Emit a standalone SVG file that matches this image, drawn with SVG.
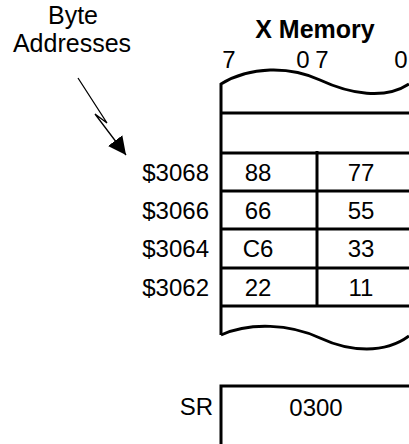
<svg xmlns="http://www.w3.org/2000/svg" width="409" height="444" viewBox="0 0 409 444">
<style>
text{font-family:"Liberation Sans",Arial,sans-serif;font-size:24px;fill:#000}
.b{font-weight:bold;font-size:25px}
.big{font-size:25px}
.m{text-anchor:middle}
.r{text-anchor:end}
.ln{stroke:#000;stroke-width:3;fill:none}
.th{stroke:#000;stroke-width:1.3;fill:none}
</style>
<defs>
<marker id="ah" viewBox="0 0 10 10" refX="10" refY="5" markerWidth="18" markerHeight="18" markerUnits="userSpaceOnUse" orient="auto">
<path d="M0,0 L10,5 L0,10 z" fill="#000"/>
</marker>
</defs>
<rect width="409" height="444" fill="#fff"/>
<g id="title">
<text class="b m" x="315" y="38">X Memory</text>
<text class="m" x="229" y="68">7</text>
<text class="m" x="303" y="68">0</text>
<text class="m" x="322" y="68">7</text>
<text class="m" x="401" y="68">0</text>
</g>
<g id="label">
<text class="m big" x="73" y="24">Byte</text>
<text class="m big" x="72" y="52">Addresses</text>
</g>
<g id="connectors">
<polyline class="th" points="78,78 107,123 95,114 126,155" marker-end="url(#ah)"/>
</g>
<g id="memory">
<path class="ln" d="M221,335 V84 C250,66 290,66 320,80 C350,94 385,100 409,84"/>
<path class="ln" d="M221,335 C250,322 290,324 320,338 C350,352 385,354 409,336"/>
<path class="ln" d="M221,113 H409 M221,153 H409 M221,191 H409 M221,229 H409 M221,268 H409 M221,306 H409 M317,151 V306"/>
</g>
<g id="row3068">
<text class="r" x="209" y="181">$3068</text>
<text class="m" x="258" y="181">88</text>
<text class="m" x="361" y="181">77</text>
</g>
<g id="row3066">
<text class="r" x="209" y="219">$3066</text>
<text class="m" x="258" y="219">66</text>
<text class="m" x="361" y="219">55</text>
</g>
<g id="row3064">
<text class="r" x="209" y="257">$3064</text>
<text class="m" x="258" y="257">C6</text>
<text class="m" x="361" y="257">33</text>
</g>
<g id="row3062">
<text class="r" x="209" y="296">$3062</text>
<text class="m" x="258" y="296">22</text>
<text class="m" x="361" y="296">11</text>
</g>
<g id="sr">
<text class="r" x="213" y="415">SR</text>
<path class="ln" d="M221,444 V386 H409"/>
<text class="m" x="316" y="416">0300</text>
</g>
</svg>
